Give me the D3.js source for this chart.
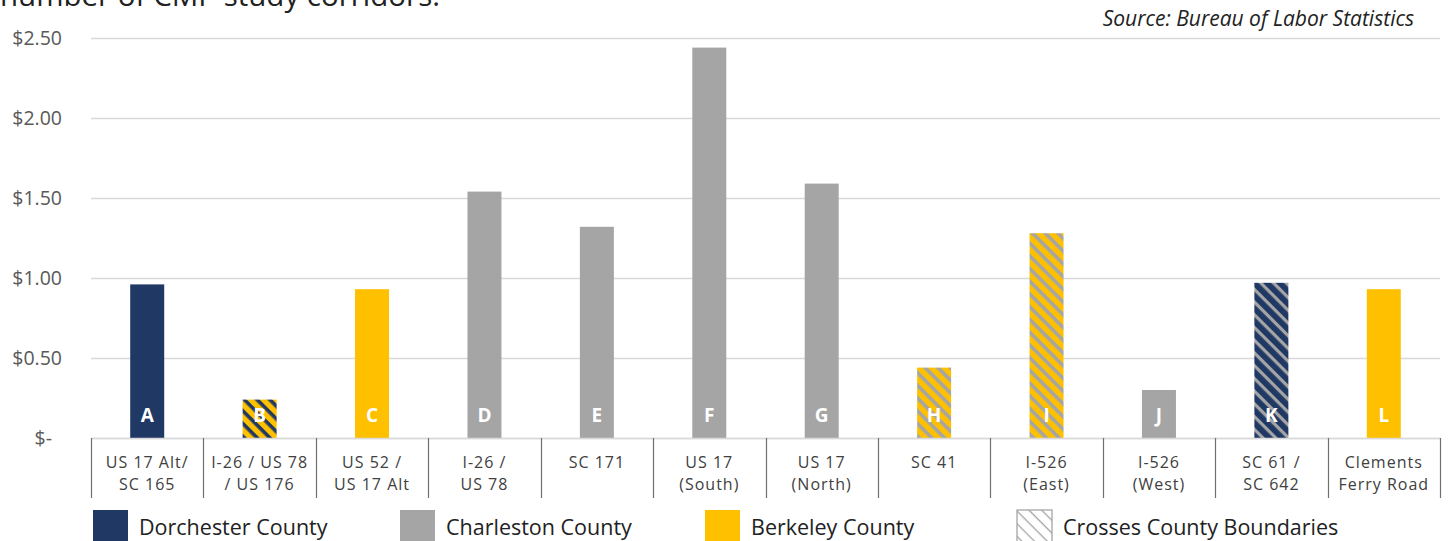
<!DOCTYPE html>
<html><head><meta charset="utf-8">
<script src="https://cdn.jsdelivr.net/npm/d3@7"></script>
<style>body{margin:0;background:#fff;overflow:hidden}svg{display:block;font-family:"Open Sans",sans-serif}</style>
</head><body>
<svg id="c" width="1449" height="541"></svg>
<script>
const letters = ["A","B","C","D","E","F","G","H","I","J","K","L"];
const labels = [["US 17 Alt/","SC 165"],["I-26 / US 78","/ US 176"],["US 52 /","US 17 Alt"],["I-26 /","US 78"],["SC 171"],["US 17","(South)"],["US 17","(North)"],["SC 41"],["I-526","(East)"],["I-526","(West)"],["SC 61 /","SC 642"],["Clements","Ferry Road"]];
const values = [0.96, 0.24, 0.93, 1.54, 1.32, 2.44, 1.59, 0.44, 1.28, 0.30, 0.97, 0.93];
const fills = ["dor","berk-dor","berk","char","char","char","char","berk-char","berk-char","char","dor-char","berk"];
const yTicks = [0, 0.5, 1, 1.5, 2, 2.5];
const legendItems = [["Dorchester County","dor"],["Charleston County","char"],["Berkeley County","berk"],["Crosses County Boundaries","hatch"]];

const C = {dor:"#1f3864", char:"#a5a5a5", berk:"#ffc000"};
const svg = d3.select("#c");
const defs = svg.append("defs");
function hatch(id, bg, fg, w){
  const p = defs.append("pattern").attr("id",id).attr("patternUnits","userSpaceOnUse")
    .attr("width",9).attr("height",9).attr("patternTransform","rotate(45)");
  p.append("rect").attr("width",9).attr("height",9).attr("fill",bg);
  p.append("rect").attr("x",0).attr("y",0).attr("width",9).attr("height",w).attr("fill",fg);
}
hatch("berk-dor", C.berk, C.dor, 3.6);
hatch("berk-char", C.berk, C.char, 3.6);
hatch("dor-char", C.dor, C.char, 3.2);
hatch("hatch", "#fff", "#a5a5a5", 1.3);
const fillOf = k => C[k] ? C[k] : `url(#${k})`;

const m = {l:91, r:1440, t:38, b:438};
const x = d3.scaleBand().domain(letters).range([m.l, m.r]).paddingInner(0).paddingOuter(0);
const y = d3.scaleLinear().domain([0,2.5]).range([m.b, m.t]);

// title (cut off at top edge, as in the reference) and source
svg.append("text").attr("x",0).attr("y",6).attr("font-size",29.5).attr("fill","#222").text("number of CMP study corridors.");
svg.append("text").attr("x",1414).attr("y",26).attr("text-anchor","end").attr("font-size",21).attr("font-style","italic").attr("fill","#222").text("Source: Bureau of Labor Statistics");

// gridlines
svg.append("g").selectAll("line").data(yTicks).join("line")
  .attr("x1",m.l).attr("x2",m.r).attr("y1",d=>y(d)+0.5).attr("y2",d=>y(d)+0.5)
  .attr("stroke","#d9d9d9").attr("stroke-width",1.3);

// y axis labels
const yAxis = d3.axisLeft(y).tickValues(yTicks).tickSize(0).tickPadding(0)
  .tickFormat(d => d===0 ? "$-" : "$" + d3.format(".2f")(d));
const yg = svg.append("g").attr("transform",`translate(62,0)`).call(yAxis);
yg.select(".domain").remove();
yg.selectAll("text").attr("font-size",19.5).attr("fill","#595959").attr("font-family","Open Sans, sans-serif")
  .attr("dx", d => d===0 ? -10 : 0);

// bars
const bw = 34;
svg.append("g").selectAll("rect").data(letters).join("rect")
  .attr("x",(d)=>x(d)+x.bandwidth()/2-bw/2).attr("width",bw)
  .attr("y",(d,i)=>y(values[i])).attr("height",(d,i)=>y(0)-y(values[i]))
  .attr("fill",(d,i)=>fillOf(fills[i]));
svg.append("g").selectAll("text").data(letters).join("text")
  .attr("x",d=>x(d)+x.bandwidth()/2).attr("y",422).attr("text-anchor","middle")
  .attr("font-size",19).attr("font-weight","bold").attr("fill","#fff").text(d=>d);

// x axis
const xAxis = d3.axisBottom(x).tickSize(0).tickFormat("");
const xg = svg.append("g").attr("transform",`translate(0,${m.b})`).call(xAxis);
xg.select(".domain").attr("stroke","#d9d9d9").attr("stroke-width",1.3);
const seps = letters.map(d=>x(d)).concat([m.r]);
svg.append("g").selectAll("line").data(seps).join("line")
  .attr("x1",d=>Math.round(d)+0.5).attr("x2",d=>Math.round(d)+0.5).attr("y1",m.b).attr("y2",498)
  .attr("stroke","#6f6f6f").attr("stroke-width",1.2);
const lg = svg.append("g").selectAll("text").data(letters).join("text")
  .attr("x",d=>x(d)+x.bandwidth()/2).attr("y",468).attr("text-anchor","middle")
  .attr("font-size",16).attr("letter-spacing",1).attr("fill","#404040");
lg.each(function(d,i){
  const t = d3.select(this);
  labels[i].forEach((s,j)=>t.append("tspan").attr("x",x(d)+x.bandwidth()/2).attr("dy", j===0?0:22).text(s));
});

// legend
const legX = [93, 400, 705, 1017];
const leg = svg.append("g").selectAll("g").data(legendItems).join("g")
  .attr("transform",(d,i)=>`translate(${legX[i]},510)`);
leg.append("rect").attr("width",35).attr("height",35).attr("fill",d=>fillOf(d[1]))
  .attr("stroke",d=>d[1]==="hatch"?"#a5a5a5":"none").attr("stroke-width",1.3);
leg.append("text").attr("x",46).attr("y",25).attr("font-size",21.5).attr("fill","#222").text(d=>d[0]);
</script>
</body></html>
